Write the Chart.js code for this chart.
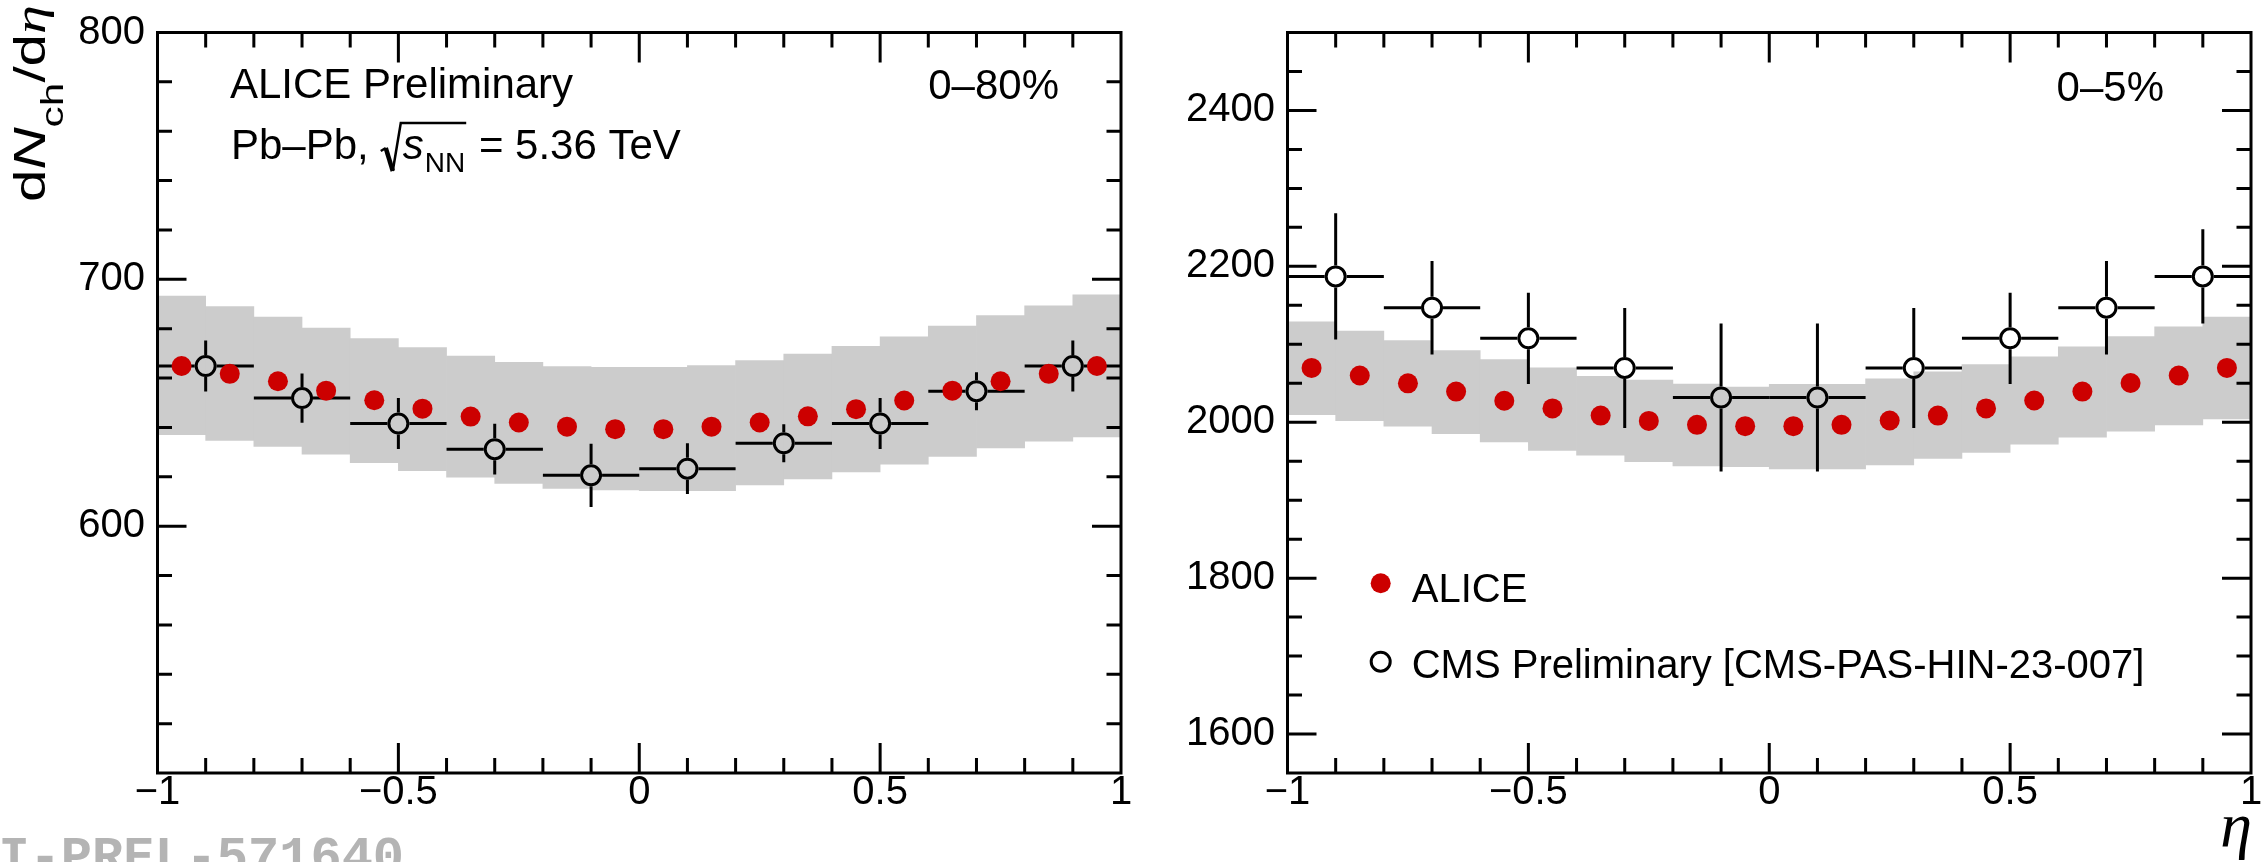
<!DOCTYPE html>
<html><head><meta charset="utf-8">
<script src="https://cdn.jsdelivr.net/npm/chart.js@4.4.1/dist/chart.umd.min.js"></script>
<style>
html,body{margin:0;padding:0;background:#fff;overflow:hidden;width:2267px;height:862px}
#cl{position:absolute;left:0;top:0}
#cr{position:absolute;left:1140px;top:0}
</style>
</head><body>
<canvas id="cl" width="1140" height="862"></canvas>
<canvas id="cr" width="1127" height="862"></canvas>
<script>
// ---------------- data ----------------
const etaAlice = [-0.95,-0.85,-0.75,-0.65,-0.55,-0.45,-0.35,-0.25,-0.15,-0.05,0.05,0.15,0.25,0.35,0.45,0.55,0.65,0.75,0.85,0.95];
const etaCms = [-0.9,-0.7,-0.5,-0.3,-0.1,0.1,0.3,0.5,0.7,0.9];
const etaCmsHalfWidth = 0.1;

// 0-80%
const aliceMB = [664.9,661.7,658.7,654.9,651.0,647.6,644.4,642.0,640.3,639.3,639.3,640.3,642.0,644.5,647.4,650.9,654.9,658.7,661.7,664.9];
const bandMBLow = [637.1,634.7,632.3,629.2,625.7,622.5,619.9,617.3,615.3,614.7,614.4,614.4,616.7,619.1,622.0,625.1,628.3,631.7,634.4,636.2];
const bandMBHigh = [693.2,689.0,684.7,680.3,676.0,672.4,668.9,666.4,664.7,664.3,664.3,665.1,667.1,669.7,672.9,676.7,681.1,685.3,689.3,693.7];
const cmsMB = [664.9,651.9,641.6,631.2,620.6,623.3,633.6,641.6,654.7,664.9];
const cmsMBErr = [10.3,10.0,10.3,10.3,12.8,10.3,7.7,10.3,7.7,10.3];

// 0-5%
const aliceC = [2069.7,2060.0,2049.9,2039.3,2027.5,2017.7,2008.5,2001.7,1996.7,1995.0,1995.0,1996.7,2002.2,2008.5,2017.7,2027.9,2039.3,2050.3,2060.0,2069.7];
const bandCLow = [2009.8,2002.0,1995.0,1985.3,1974.7,1964.0,1957.8,1949.4,1943.9,1943.0,1940.0,1940.0,1945.2,1953.6,1961.2,1971.8,1981.0,1988.6,1996.6,2004.2];
const bandCHigh = [2128.8,2117.0,2104.7,2092.0,2080.3,2069.7,2059.0,2054.0,2049.0,2045.2,2048.6,2048.6,2055.7,2064.6,2074.0,2084.0,2096.7,2109.8,2122.5,2135.0];
const cmsC = [2187.1,2147.0,2107.7,2069.7,2031.7,2031.7,2069.7,2107.7,2147.0,2187.1];
const cmsCErr = [81,60,58.5,77,95,95,77,58.5,60,60.4];

// ticks
const xTickLabels = [-1,-0.5,0,0.5,1];
const yTickLabelsMB = [600,700,800];
const yTickLabelsC = [1600,1800,2000,2200,2400];

// ---------------- style ----------------
const SANS = '"Liberation Sans", Arial, Helvetica, sans-serif';
const SERIF = '"Liberation Serif", "DejaVu Serif", serif';
const MONO = '"Liberation Mono", "DejaVu Sans Mono", monospace';
const RED = '#cc0000';
const GREY = '#cccccc';

function fmt(v){ return v < 0 ? '\u2212' + String(-v) : String(v); }

function ticksPlugin(cfg){
  return {
    id: 'rootframe',
    beforeDatasetDraw(chart, args){
      if (args.index !== 1) return;
      const ctx = chart.ctx, xs = chart.scales.x, ys = chart.scales.y;
      const R = 11;
      ctx.save();
      ctx.strokeStyle = '#000'; ctx.lineWidth = 3; ctx.lineCap = 'butt';
      cfg.cmsX.forEach((x, i) => {
        const px = xs.getPixelForValue(x), py = ys.getPixelForValue(cfg.cmsY[i]);
        const xl = xs.getPixelForValue(x - etaCmsHalfWidth), xr = xs.getPixelForValue(x + etaCmsHalfWidth);
        const yt = ys.getPixelForValue(cfg.cmsY[i] + cfg.cmsE[i]), yb = ys.getPixelForValue(cfg.cmsY[i] - cfg.cmsE[i]);
        ctx.beginPath();
        ctx.moveTo(xl, py); ctx.lineTo(px - R, py);
        ctx.moveTo(px + R, py); ctx.lineTo(xr, py);
        if (yt < py - R) { ctx.moveTo(px, yt); ctx.lineTo(px, py - R); }
        if (yb > py + R) { ctx.moveTo(px, py + R); ctx.lineTo(px, yb); }
        ctx.stroke();
      });
      ctx.restore();
    },
    afterDraw(chart){
      const ctx = chart.ctx, a = chart.chartArea, xs = chart.scales.x, ys = chart.scales.y;
      ctx.save();
      ctx.strokeStyle = '#000'; ctx.lineWidth = 3;
      const isMajor = (v, m) => Math.abs(v / m - Math.round(v / m)) < 1e-6;
      ctx.beginPath();
      const nx = Math.round((cfg.xmax - cfg.xmin) / cfg.xminor);
      for (let i = 1; i < nx; i++) {
        const v = cfg.xmin + i * cfg.xminor;
        const p = xs.getPixelForValue(v);
        const L = isMajor(v, cfg.xmajor) ? 30 : 15;
        ctx.moveTo(p, a.bottom); ctx.lineTo(p, a.bottom - L);
        ctx.moveTo(p, a.top); ctx.lineTo(p, a.top + L);
      }
      const ny = Math.round((cfg.ymax - cfg.ymin) / cfg.yminor);
      for (let i = 1; i < ny; i++) {
        const v = cfg.ymin + i * cfg.yminor;
        const p = ys.getPixelForValue(v);
        const L = isMajor(v, cfg.ymajor) ? 29 : 14.5;
        ctx.moveTo(a.left, p); ctx.lineTo(a.left + L, p);
        ctx.moveTo(a.right, p); ctx.lineTo(a.right - L, p);
      }
      ctx.stroke();
      ctx.lineWidth = 3;
      ctx.strokeRect(a.left, a.top, a.right - a.left, a.bottom - a.top);
      ctx.restore();
      cfg.texts(ctx, chart);
    }
  };
}

function makeChart(id, d){
  return new Chart(document.getElementById(id), {
    type: 'scatter',
    data: { datasets: [
      { type: 'scatter', label: 'ALICE', order: 1,
        data: etaAlice.map((x, i) => ({x, y: d.alice[i]})),
        pointRadius: 10, pointHoverRadius: 10, pointBackgroundColor: RED, pointBorderWidth: 0, borderWidth: 0 },
      { type: 'scatter', label: 'CMS', order: 2,
        data: etaCms.map((x, i) => ({x, y: d.cmsY[i]})),
        pointRadius: 9.5, pointHoverRadius: 9.5, pointBackgroundColor: 'rgba(0,0,0,0)', pointBorderColor: '#000', pointBorderWidth: 3 },
      { type: 'bar', label: 'sys', order: 3,
        data: etaAlice.map((x, i) => ({x, y: [d.low[i], d.high[i]]})),
        backgroundColor: GREY, borderWidth: 0, barPercentage: 1, categoryPercentage: 1, grouped: false }
    ]},
    options: {
      responsive: false, animation: false, events: [],
      layout: { padding: { top: 23, right: d.padRight, left: 0, bottom: 0 } },
      plugins: { legend: { display: false }, tooltip: { enabled: false } },
      scales: {
        x: { type: 'linear', min: -1, max: 1, offset: false,
             grid: { display: false, drawTicks: false }, border: { display: false },
             ticks: { font: { family: SANS, size: 40, lineHeight: 1 }, color: '#000', padding: 0, maxRotation: 0, autoSkip: false, callback: v => fmt(v) },
             afterBuildTicks: s => { s.ticks = xTickLabels.map(v => ({value: v})); },
             afterFit: s => { s.height = 89; } },
        y: { type: 'linear', min: d.ymin, max: d.ymax,
             grid: { display: false, drawTicks: false }, border: { display: false },
             ticks: { font: { family: SANS, size: 40, lineHeight: 1 }, color: '#000', padding: 12.5, autoSkip: false, callback: v => String(v) },
             afterBuildTicks: s => { s.ticks = d.yTicks.map(v => ({value: v})); },
             afterFit: s => { s.width = d.yWidth; } }
      }
    },
    plugins: [ticksPlugin({
      cmsX: etaCms, cmsY: d.cmsY, cmsE: d.cmsE,
      xmin: -1, xmax: 1, xminor: 0.1, xmajor: 0.5,
      ymin: d.ymin, ymax: d.ymax, yminor: d.yminor, ymajor: d.ymajor,
      texts: d.texts
    })]
  });
}

function drawYTitle(ctx){
  const F = 44;
  const parts = [
    {t: 'd', f: `${F}px ${SANS}`, dy: 0},
    {t: 'N', f: `italic ${F}px ${SANS}`, dy: 0},
    {t: 'ch', f: `${Math.round(F * 0.72)}px ${SANS}`, dy: 18},
    {t: '/d', f: `${F}px ${SANS}`, dy: 0},
    {t: '\u03B7', f: `italic ${F}px ${SERIF}`, dy: 0}
  ];
  let w = 0;
  parts.forEach(p => { ctx.font = p.f; p.w = ctx.measureText(p.t).width; w += p.w; });
  const s = 197 / w;
  ctx.save();
  ctx.translate(45, 202); ctx.rotate(-Math.PI / 2); ctx.scale(s, 1);
  ctx.fillStyle = '#000'; ctx.textBaseline = 'alphabetic'; ctx.textAlign = 'left';
  let x = 0;
  parts.forEach(p => { ctx.font = p.f; ctx.fillText(p.t, x, p.dy); x += p.w; });
  ctx.restore();
}

function leftTexts(ctx){
  ctx.save();
  ctx.fillStyle = '#000'; ctx.textBaseline = 'alphabetic';
  ctx.font = `42px ${SANS}`; ctx.textAlign = 'left';
  ctx.fillText('ALICE Preliminary', 230, 98);
  // Pb-Pb line
  let x = 231; const b = 159;
  ctx.fillText('Pb\u2013Pb,', x, b); x += ctx.measureText('Pb\u2013Pb,').width + 12;
  const rx = x;
  ctx.font = `italic 42px ${SANS}`;
  const sw = ctx.measureText('s').width;
  ctx.fillText('s', rx + 22, b);
  ctx.font = `28px ${SANS}`;
  const nw = ctx.measureText('NN').width;
  ctx.fillText('NN', rx + 22 + sw + 1, b + 13);
  const endSub = rx + 22 + sw + 1 + nw;
  ctx.strokeStyle = '#000'; ctx.lineJoin = 'miter';
  ctx.lineWidth = 2.5;
  ctx.beginPath();
  ctx.moveTo(rx, b - 8); ctx.lineTo(rx + 5, b - 11);
  ctx.stroke();
  ctx.lineWidth = 4.5;
  ctx.beginPath();
  ctx.moveTo(rx + 5, b - 11); ctx.lineTo(rx + 12, b + 12);
  ctx.stroke();
  ctx.lineWidth = 2.5;
  ctx.beginPath();
  ctx.moveTo(rx + 12, b + 12); ctx.lineTo(rx + 20, b - 36); ctx.lineTo(endSub + 1, b - 36);
  ctx.stroke();
  ctx.font = `42px ${SANS}`;
  ctx.fillText(' = 5.36 TeV', endSub + 2, b);
  ctx.textAlign = 'right';
  ctx.fillText('0\u201380%', 1059, 99);
  ctx.restore();
  drawYTitle(ctx);
  // watermark
  ctx.save();
  ctx.fillStyle = '#b4b4b4'; ctx.font = `bold 52px ${MONO}`; ctx.textAlign = 'left';
  ctx.fillText('ALI-PREL-571640', -64, 872);
  ctx.restore();
}

function rightTexts(ctx){
  ctx.save();
  ctx.fillStyle = '#000'; ctx.textBaseline = 'alphabetic';
  ctx.font = `42px ${SANS}`; ctx.textAlign = 'right';
  ctx.fillText('0\u20135%', 1024, 101);
  // legend
  ctx.fillStyle = RED;
  ctx.beginPath(); ctx.arc(240.7, 583.3, 10, 0, Math.PI * 2); ctx.fill();
  ctx.strokeStyle = '#000'; ctx.lineWidth = 3;
  ctx.beginPath(); ctx.arc(240.7, 661.7, 9.5, 0, Math.PI * 2); ctx.stroke();
  ctx.fillStyle = '#000'; ctx.font = `40px ${SANS}`; ctx.textAlign = 'left';
  ctx.fillText('ALICE', 271.7, 601.7);
  ctx.fillText('CMS Preliminary [CMS-PAS-HIN-23-007]', 271.7, 678.3);
  // x title
  ctx.font = `italic 64px ${SERIF}`; ctx.textAlign = 'right';
  ctx.fillText('\u03B7', 1112, 846);
  ctx.restore();
}

makeChart('cl', {
  alice: aliceMB, low: bandMBLow, high: bandMBHigh, cmsY: cmsMB, cmsE: cmsMBErr,
  ymin: 500, ymax: 800, yminor: 20, ymajor: 100, yTicks: yTickLabelsMB,
  padRight: 19, yWidth: 157.5, texts: leftTexts
});
makeChart('cr', {
  alice: aliceC, low: bandCLow, high: bandCHigh, cmsY: cmsC, cmsE: cmsCErr,
  ymin: 1550, ymax: 2500, yminor: 50, ymajor: 200, yTicks: yTickLabelsC,
  padRight: 16, yWidth: 147.5, texts: rightTexts
});
</script>
</body></html>
